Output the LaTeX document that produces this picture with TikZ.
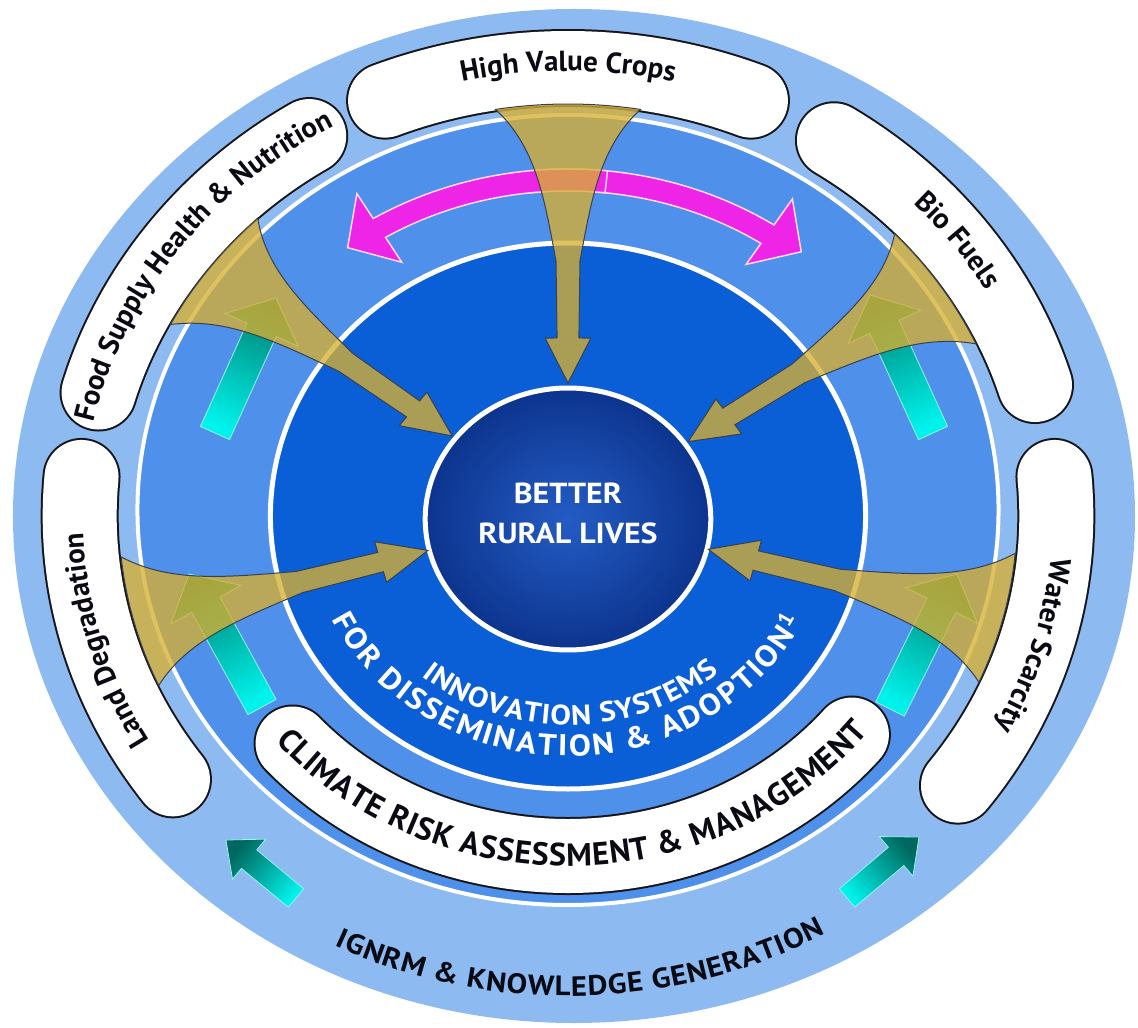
\documentclass[tikz,border=0pt]{standalone}
\usepackage{fontspec}
\setmainfont{PT Sans}
\newfontfamily\capsfamily{PT Sans}[FakeStretch=1.1]
\usetikzlibrary{decorations.text,calc}

\definecolor{outerblue}{RGB}{141,186,241}
\definecolor{midblue}{RGB}{78,144,234}
\definecolor{innerblue}{RGB}{10,94,214}
\definecolor{corein}{RGB}{36,92,196}
\definecolor{coreout}{RGB}{12,52,142}
\definecolor{pillline}{RGB}{22,22,26}
\definecolor{funnelfill}{RGB}{216,176,50}
\definecolor{funnelline}{RGB}{58,64,78}
\definecolor{magentafill}{RGB}{238,36,230}
\definecolor{magentarim}{RGB}{255,215,250}
\definecolor{tealtail}{RGB}{0,242,236}
\definecolor{tealneck}{RGB}{0,128,112}
\definecolor{tealdark}{RGB}{0,104,94}
\definecolor{tealrim}{RGB}{150,245,235}
\definecolor{labelink}{RGB}{10,10,20}

\newcommand\pillfont{\bfseries\fontsize{29}{29}\selectfont}
\newcommand\climatefont{\bfseries\fontsize{32}{32}\selectfont}
\newcommand\knowfont{\capsfamily\bfseries\fontsize{28}{28}\selectfont}
\newcommand\innovfont{\capsfamily\bfseries\fontsize{28}{28}\selectfont}
\newcommand\innovfontb{\capsfamily\bfseries\fontsize{30}{30}\selectfont}

% block arrow from tail (#1,#2) to tip (#3,#4), pixel-style coordinates,
% shaft half width #5, head half width #6, head length #7, head colour #8
\newcommand\tealarrow[8]{%
  \pgfmathsetmacro\tax{#1-568}%
  \pgfmathsetmacro\tay{516-#2}%
  \pgfmathsetmacro\tdx{#3-#1}%
  \pgfmathsetmacro\tdy{#2-#4}%
  \pgfmathsetmacro\tang{atan2(\tdy,\tdx)}%
  \pgfmathsetmacro\tlen{veclen(\tdx,\tdy)}%
  \pgfmathsetmacro\tneck{\tlen-#7}%
  \pgfmathsetmacro\tsh{\tang-90}%
  \coordinate (ttail) at (\tax pt,\tay pt);%
  \shade[top color=#8, bottom color=tealtail, shading angle=\tsh,
         draw=tealrim, line width=0.8pt]
    ($(ttail)+(\tang-90:#5pt)$)
    -- ($(ttail)+(\tang:\tneck pt)+(\tang-90:#5pt)$)
    -- ($(ttail)+(\tang:\tneck pt)+(\tang-90:#6pt)$)
    -- ($(ttail)+(\tang:\tlen pt)$)
    -- ($(ttail)+(\tang:\tneck pt)+(\tang+90:#6pt)$)
    -- ($(ttail)+(\tang:\tneck pt)+(\tang+90:#5pt)$)
    -- ($(ttail)+(\tang+90:#5pt)$) -- cycle;}

\begin{document}
\begin{tikzpicture}[x=1.09pt, y=1pt,
  pillborder/.style={line width=78pt, line cap=round, draw=pillline},
  pillbody/.style={line width=74pt, line cap=round, draw=white},
  funnel/.style={fill=funnelfill, fill opacity=0.78, draw=funnelline, line width=1pt},
  magarrow/.style={fill=magentafill, draw=magentarim, line width=1.5pt}]

\useasboundingbox (-568pt,-512pt) rectangle (570pt,516pt);

% outer light ring
\fill[outerblue] (6pt,0pt) ellipse [x radius=561pt, y radius=507pt];

% outer pills
\foreach \pa/\pb in {68/112, 122/164, 175/216, -37/5, 17/57} {
  \draw[pillborder] (\pa:448) arc[start angle=\pa, end angle=\pb, radius=448];
  \draw[pillbody] (\pa:448) arc[start angle=\pa, end angle=\pb, radius=448];
}

% middle band and inner disc
\draw[white, line width=4pt, fill=midblue] (0,6) ellipse [x radius=395, y radius=395];
\draw[white, line width=5pt, fill=innerblue] (0,0) ellipse [x radius=273, y radius=273];

% climate pill
\draw[pillborder] (222:340) arc[start angle=222, end angle=320, radius=340];
\draw[pillbody] (222:340) arc[start angle=222, end angle=320, radius=340];

% core
\shade[inner color=corein, outer color=coreout] (0,-3) ellipse [x radius=131, y radius=131];
\draw[white, line width=5pt] (0,-3) ellipse [x radius=131, y radius=131];

% teal arrows
\tealarrow{215}{433}{276}{298}{16}{40}{35}{tealneck}
\tealarrow{933}{433}{870}{295}{16}{40}{35}{tealneck}
\tealarrow{262}{707}{189}{574}{16}{40}{35}{tealneck}
\tealarrow{890}{709}{957}{574}{16}{40}{35}{tealneck}
\tealarrow{296}{898}{226}{840}{12}{26}{30}{tealdark}
\tealarrow{847}{898}{919}{837}{12}{26}{30}{tealdark}

% magenta arrows
\filldraw[magarrow] (96:347) arc[start angle=96, end angle=57, radius=347]
  -- (57:378) -- (51:340) -- (57:300) -- (57:325)
  arc[start angle=57, end angle=96, radius=325] -- cycle;
\filldraw[magarrow] (84:347) arc[start angle=84, end angle=121, radius=347]
  -- (121:376) -- (127:336) -- (121:296) -- (121:325)
  arc[start angle=121, end angle=84, radius=325] -- cycle;

% funnels
\foreach \fa in {90,143,34,195,-14.5} {
  \filldraw[funnel]
   ({\fa-9.3}:412) arc[start angle={\fa-9.3}, end angle={\fa+9.3}, radius=412]
   .. controls ({\fa+4.635}:371.2) and ({\fa+3.933}:320.8) .. ({\fa+2.47}:255.2)
   -- ({\fa+3.215}:178.3) -- ({\fa+6.729}:179.2) -- (\fa:133)
   -- ({\fa-6.729}:179.2) -- ({\fa-3.215}:178.3) -- ({\fa-2.47}:255.2)
   .. controls ({\fa-3.933}:320.8) and ({\fa-4.635}:371.2) .. ({\fa-9.3}:412)
   -- cycle;
}

% pill labels
\path[decorate, decoration={text along path, text align=center,
  text={|\pillfont\color{labelink}|High Value Crops}}]
  (120:445) arc[start angle=120, end angle=60, radius=445];
\path[decorate, decoration={text along path, text align=center,
  text={|\pillfont\color{labelink}|Food Supply Health {\&} Nutrition}}]
  (173.5:445) arc[start angle=173.5, end angle=113.5, radius=445];
\path[decorate, decoration={text along path, text align=center,
  text={|\pillfont\color{labelink}|Bio Fuels}}]
  (67:445) arc[start angle=67, end angle=7, radius=445];
\path[decorate, decoration={text along path, text align=center,
  text={|\pillfont\color{labelink}|Water Scarcity}}]
  (13.5:445) arc[start angle=13.5, end angle=-46.5, radius=445];
\path[decorate, decoration={text along path, text align=center,
  text={|\pillfont\color{labelink}|Land Degradation}}]
  (226:445) arc[start angle=226, end angle=166, radius=445];

% band labels
\path[decorate, decoration={text along path, text align={fit to path},
  text={|\climatefont\color{labelink}|CLIMATE RISK ASSESSMENT {\&} MANAGEMENT}}]
  (220:350) arc[start angle=220, end angle=322, radius=350];
\path[decorate, decoration={text along path, text align={fit to path},
  text={|\knowfont\color{labelink}|IGNRM {\&} KNOWLEDGE GENERATION}}]
  (243.5:480) arc[start angle=243.5, end angle=299.5, radius=480];
\path[decorate, decoration={text along path, text align={fit to path},
  text={|\innovfont\color{white}|INNOVATION SYSTEMS}}]
  (230:209) arc[start angle=230, end angle=311.5, radius=209];
\path[decorate, decoration={text along path, text align={fit to path},
  text={|\innovfontb\color{white}|FOR DISSEMINATION {\&} ADOPTION{\textsuperscript{1}}}}]
  (205.5:240) arc[start angle=205.5, end angle=334, radius=240];

% core label
\node[text=white, font=\capsfamily\bfseries\fontsize{29}{40}\selectfont, align=center]
  (core) at (0pt,3pt) {BETTER\\RURAL LIVES};

\end{tikzpicture}
\end{document}
